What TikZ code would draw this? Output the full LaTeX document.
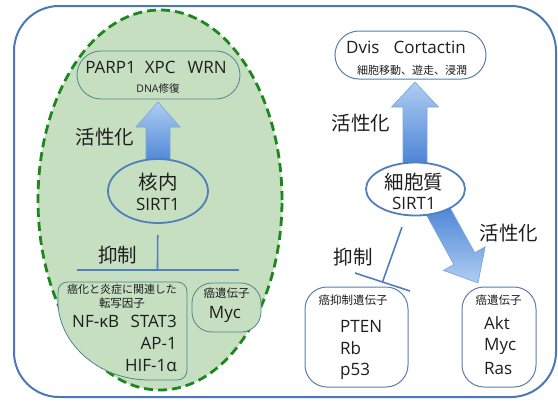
\documentclass[tikz,border=0pt]{standalone}
\usepackage{fontspec}
\setmainfont{Open Sans}
\newfontfamily\jp{Noto Sans CJK JP}
\usetikzlibrary{calc,shapes.geometric}
\definecolor{outerblue}{RGB}{74,120,184}
\definecolor{greenfill}{RGB}{198,223,193}
\definecolor{dashgreen}{RGB}{28,135,28}
\definecolor{tealline}{RGB}{78,135,140}
\definecolor{boxline}{RGB}{95,125,170}
\definecolor{ellline}{RGB}{80,128,185}
\definecolor{arrowlight}{RGB}{175,205,242}
\definecolor{arrowdark}{RGB}{62,122,210}
\definecolor{arrowedge}{RGB}{125,165,218}
\definecolor{txt}{RGB}{30,30,30}
\begin{document}
\begin{tikzpicture}[x=1pt,y=-1pt,
  big/.style={font=\fontsize{17}{20}\selectfont, text=txt, inner sep=0pt},
  jbig/.style={font=\jp\fontsize{19.5}{22}\selectfont, text=txt, inner sep=0pt},
  jsmall/.style={font=\jp\fontsize{11.5}{13}\selectfont, text=txt, inner sep=0pt},
  jtiny/.style={font=\jp\fontsize{11}{13}\selectfont, text=txt, inner sep=0pt},
  gbox/.style={draw=tealline, line width=0.8pt, fill=greenfill},
  wbox/.style={draw=boxline, line width=1pt, fill=white},
  sirt/.style={ellipse, draw=ellline, line width=1.8pt, inner sep=0pt},
  blockarrow/.style={draw=arrowedge, line width=0.6pt},
  inh/.style={draw=ellline, line width=1.6pt}
]
\useasboundingbox (0,0) rectangle (558,400);
% outer frame
\draw[outerblue, line width=2pt, fill=white, rounded corners=45pt] (14,6) rectangle (556,397);
% nucleus region
\draw[dashgreen, line width=2.8pt, dash pattern=on 9pt off 5pt, fill=greenfill] (160,200) ellipse [x radius=122pt, y radius=190pt];

% left boxes
\node[gbox, rounded corners=24pt, minimum width=163pt, minimum height=48pt] (parp) at (158.5,75) {};
\draw[gbox] (68,282) -- (177,282) .. controls (183,282) and (187,286) .. (187,292) -- (187,370)
  .. controls (187,376) and (183,380) .. (177,380) -- (150,380)
  .. controls (95,380) and (58,340) .. (58,302) -- (58,292) .. controls (58,286) and (62,282) .. (68,282) -- cycle;
\node[gbox, rounded corners=20pt, minimum width=69pt, minimum height=49pt] (mycl) at (226.5,307.5) {};

% right boxes
\node[wbox, rounded corners=24pt, minimum width=151pt, minimum height=48pt] (dvis) at (410.5,55) {};
\node[wbox, rounded corners=22pt, minimum width=103pt, minimum height=100pt] (supp) at (356.5,337) {};
\node[wbox, rounded corners=22pt, minimum width=74pt, minimum height=100pt] (onco) at (499,337) {};

% block arrows
\shade[blockarrow, top color=arrowlight, bottom color=arrowdark]
  (158,102) -- (180,127) -- (170,127) -- (170,172) -- (146,172) -- (146,127) -- (136,127) -- cycle;
\shade[blockarrow, top color=arrowlight, bottom color=arrowdark]
  (415,82) -- (438.5,107) -- (427,107) -- (427,175) -- (403,175) -- (403,107) -- (391.5,107) -- cycle;
\shade[blockarrow, top color=arrowdark, bottom color=arrowlight]
  (478,283) -- (485.2,246.8) -- (474.8,252.7) -- (442.5,194.1) -- (421.5,205.9) -- (453.8,264.5) -- (443.4,270.4) -- cycle;

% SIRT1 ellipses
\node[sirt, fill=greenfill, minimum width=100pt, minimum height=64pt] (nuc) at (158,191) {};
\node[sirt, fill=white, minimum width=99pt, minimum height=53pt] (cyt) at (415.5,189) {};

% inhibition left
\coordinate (lbar) at (157.5,270);
\coordinate (lbarL) at (77,270);
\coordinate (lbarR) at (239,270);
\draw[inh, shorten <=11pt] (nuc) -- (lbar);
\draw[inh] (lbarL) -- (lbarR);
% inhibition right
\coordinate (rbar) at (382.5,282);
\coordinate (rbarL) at (355,273);
\coordinate (rbarR) at (410,291);
\draw[inh, shorten <=12pt] (cyt) -- (rbar);
\draw[inh] (rbarL) -- (rbarR);

% texts left
\node[big] (t1) at (156,67) {PARP1\hspace{9pt}XPC\hspace{12pt}WRN};
\node[jsmall, font=\fontsize{10.5}{12}\selectfont] (t2) at (158,89) {DNA{\jp 修復}};
\node[jbig] (t3) at (105,137) {活性化};
\node[jbig] (t4) at (158,182) {核内};
\node[big] (t5) at (158,204) {SIRT1};
\node[jbig] (t6) at (118,255) {抑制};
\node[jtiny] (t7) at (122,289) {癌化と炎症に関連した};
\node[jsmall] (t8) at (122,303) {転写因子};
\node[big, anchor=west] (t9) at (72,321) {NF-κB};
\node[big, anchor=east] (t10) at (177,321) {STAT3};
\node[big, anchor=east] (t11) at (177,343) {AP-1};
\node[big, anchor=east] (t12) at (177,366) {HIF-1α};
\node[jsmall] (t13) at (226.5,293) {癌遺伝子};
\node[big] (t14) at (225,314) {Myc};

% texts right
\node[big] (t15) at (406,47) {Dvis\hspace{14pt}Cortactin};
\node[jtiny] (t16) at (412,70) {細胞移動、遊走、浸潤};
\node[jbig] (t17) at (361,123) {活性化};
\node[jbig] (t18) at (414,182) {細胞質};
\node[big] (t19) at (414,203) {SIRT1};
\node[jbig] (t20) at (353,257) {抑制};
\node[jbig] (t21) at (509,233) {活性化};
\node[jsmall] (t22) at (353,300) {癌抑制遺伝子};
\node[big, anchor=west] (t23) at (340,326) {PTEN};
\node[big, anchor=west] (t24) at (340,348) {Rb};
\node[big, anchor=west] (t25) at (340,371) {p53};
\node[jsmall] (t26) at (498.5,300) {癌遺伝子};
\node[big, anchor=west] (t27) at (484,323) {Akt};
\node[big, anchor=west] (t28) at (484,346) {Myc};
\node[big, anchor=west] (t29) at (484,369) {Ras};
\end{tikzpicture}
\end{document}
